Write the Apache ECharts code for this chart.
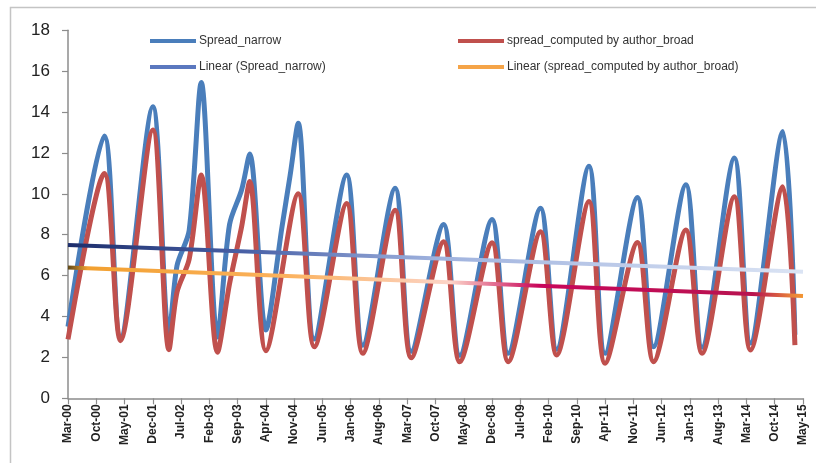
<!DOCTYPE html>
<html>
<head>
<meta charset="utf-8">
<script src="https://cdn.jsdelivr.net/npm/echarts@6/dist/echarts.min.js"></script>
<style>
html,body{margin:0;padding:0;background:#fff;}
#chart{width:816px;height:463px;}
</style>
</head>
<body>
<div id="chart"></div>
<script>
// ---- data ----
var monthNames = ['Jan','Feb','Mar','Apr','May','Jun','Jul','Aug','Sep','Oct','Nov','Dec'];
var startYear = 2000, startMonth = 2, monthCount = 183; // Mar-00 .. May-15
var categories = [];
for (var i = 0; i < monthCount; i++) {
  var m = (startMonth + i) % 12, y = startYear + Math.floor((startMonth + i) / 12);
  categories.push(monthNames[m] + '-' + String(y % 100).padStart(2, '0'));
}

var narrowX = ['Mar-00','Dec-00','Apr-01','Dec-01','Apr-02','Jun-02','Sep-02','Dec-02','Apr-03','Jul-03','Oct-03','Dec-03','Apr-04','Aug-04','Oct-04','Dec-04','Apr-05','Dec-05','Apr-06','Dec-06','Apr-07','Dec-07','Apr-08','Dec-08','Apr-09','Dec-09','Apr-10','Dec-10','Apr-11','Dec-11','Apr-12','Dec-12','Apr-13','Dec-13','Apr-14','Dec-14','Mar-15'];
var narrowValues = [3.5,12.83,2.95,14.26,3.1,6.5,8.2,15.45,3.0,8.5,10.2,11.95,3.34,8.4,10.9,13.45,2.9,10.92,2.6,10.27,2.3,8.5,2.1,8.75,2.2,9.3,2.4,11.35,2.2,9.82,2.52,10.45,2.5,11.75,2.7,13.05,3.1];

var broadX = ['Mar-00','Dec-00','Apr-01','Dec-01','Apr-02','Jun-02','Sep-02','Dec-02','Apr-03','Jul-03','Oct-03','Dec-03','Apr-04','Dec-04','Apr-05','Dec-05','Apr-06','Dec-06','Apr-07','Dec-07','Apr-08','Dec-08','Apr-09','Dec-09','Apr-10','Dec-10','Apr-11','Dec-11','Apr-12','Dec-12','Apr-13','Dec-13','Apr-14','Dec-14','Mar-15'];
var broadValues = [2.88,11.0,2.82,13.12,2.38,5.2,6.8,10.92,2.25,5.6,8.4,10.6,2.33,10.0,2.52,9.53,2.2,9.2,1.98,7.66,1.79,7.61,1.79,8.15,2.12,9.62,1.71,7.62,1.79,8.23,2.2,9.86,2.36,10.35,2.6];

var trendX = ['Mar-00','May-15'];
var narrowTrend = [7.5, 6.19];
var broadTrend = [6.4, 5.0];

var yTicks = [0,2,4,6,8,10,12,14,16,18];

var names = ['Spread_narrow','spread_computed by author_broad','Linear (Spread_narrow)','Linear (spread_computed by author_broad)'];

function pairs(xs, vs){ return xs.map(function(x,i){ return [x, vs[i]]; }); }

var chart = echarts.init(document.getElementById('chart'));
var font = 'Liberation Sans, Arial, sans-serif';

function legendItem(name, left, top, color){
  return {
    data:[{name:name, itemStyle:{color:color}}],
    left:left, top:top, padding:0, icon:'rect', itemWidth:46, itemHeight:4,
    selectedMode:false,
    textStyle:{fontSize:12, color:'#333', fontFamily:font, padding:[0,0,0,-2]}
  };
}

chart.setOption({
  animation:false,
  backgroundColor:'#fff',
  graphic:[{type:'rect', shape:{x:10.5,y:7.5,width:900,height:600}, style:{fill:'none', stroke:'#c4c4c4', lineWidth:1.5}, silent:true}],
  legend:[
    legendItem(names[0],150,35,'#4a7ebb'),
    legendItem(names[2],150,61,'#5b78bf'),
    legendItem(names[1],458,35,'#c0504d'),
    legendItem(names[3],458,61,'#f5a448')
  ],
  grid:{left:68, right:13, top:30.3, bottom:64.7, containLabel:false},
  xAxis:{
    type:'category', data:categories, boundaryGap:false,
    axisLine:{lineStyle:{color:'#8c8c8c', width:1.5}},
    axisTick:{interval:6, length:6, lineStyle:{color:'#8c8c8c', width:1.2}},
    axisLabel:{interval:6, rotate:90, fontSize:12, fontWeight:'bold', color:'#222', fontFamily:font, margin:6}
  },
  yAxis:{
    type:'value', min:0, max:18, interval:2,
    axisLine:{show:true, lineStyle:{color:'#8c8c8c', width:1.5}},
    axisTick:{show:true, length:6, lineStyle:{color:'#8c8c8c', width:1.2}},
    splitLine:{show:false},
    axisLabel:{fontSize:17, color:'#222', fontFamily:font, margin:18,
      formatter:function(v){ return yTicks.indexOf(v) >= 0 ? String(v) : ''; }}
  },
  series:[
    {name:names[0], type:'line', data:pairs(narrowX, narrowValues), smooth:0.3, symbol:'none', color:'#4a7ebb',
      lineStyle:{width:5, color:'#4a7ebb', join:'round'}, z:2},
    {name:names[1], type:'line', data:pairs(broadX, broadValues), smooth:0.3, symbol:'none', color:'#c0504d',
      lineStyle:{width:5, color:'#c0504d', join:'round'}, z:3},
    {name:names[2], type:'line', data:pairs(trendX, narrowTrend), symbol:'none', color:'#5b78bf',
      lineStyle:{width:4, color:new echarts.graphic.LinearGradient(0,0,1,0,[
        {offset:0,color:'#1c2d6b'},{offset:0.25,color:'#4a62a8'},{offset:0.5,color:'#9fb2de'},{offset:1,color:'#dbe4f4'}])}, z:4},
    {name:names[3], type:'line', data:pairs(trendX, broadTrend), symbol:'none', color:'#f5a448',
      lineStyle:{width:4, color:new echarts.graphic.LinearGradient(0,0,1,0,[
        {offset:0,color:'#4d3d14'},{offset:0.03,color:'#f2a030'},{offset:0.3,color:'#fbb25e'},{offset:0.52,color:'#fcd4c8'},
        {offset:0.64,color:'#c8065a'},{offset:0.93,color:'#b81450'},{offset:0.98,color:'#e8803a'},{offset:1,color:'#f59a30'}])}, z:5}
  ]
});
</script>
</body>
</html>
